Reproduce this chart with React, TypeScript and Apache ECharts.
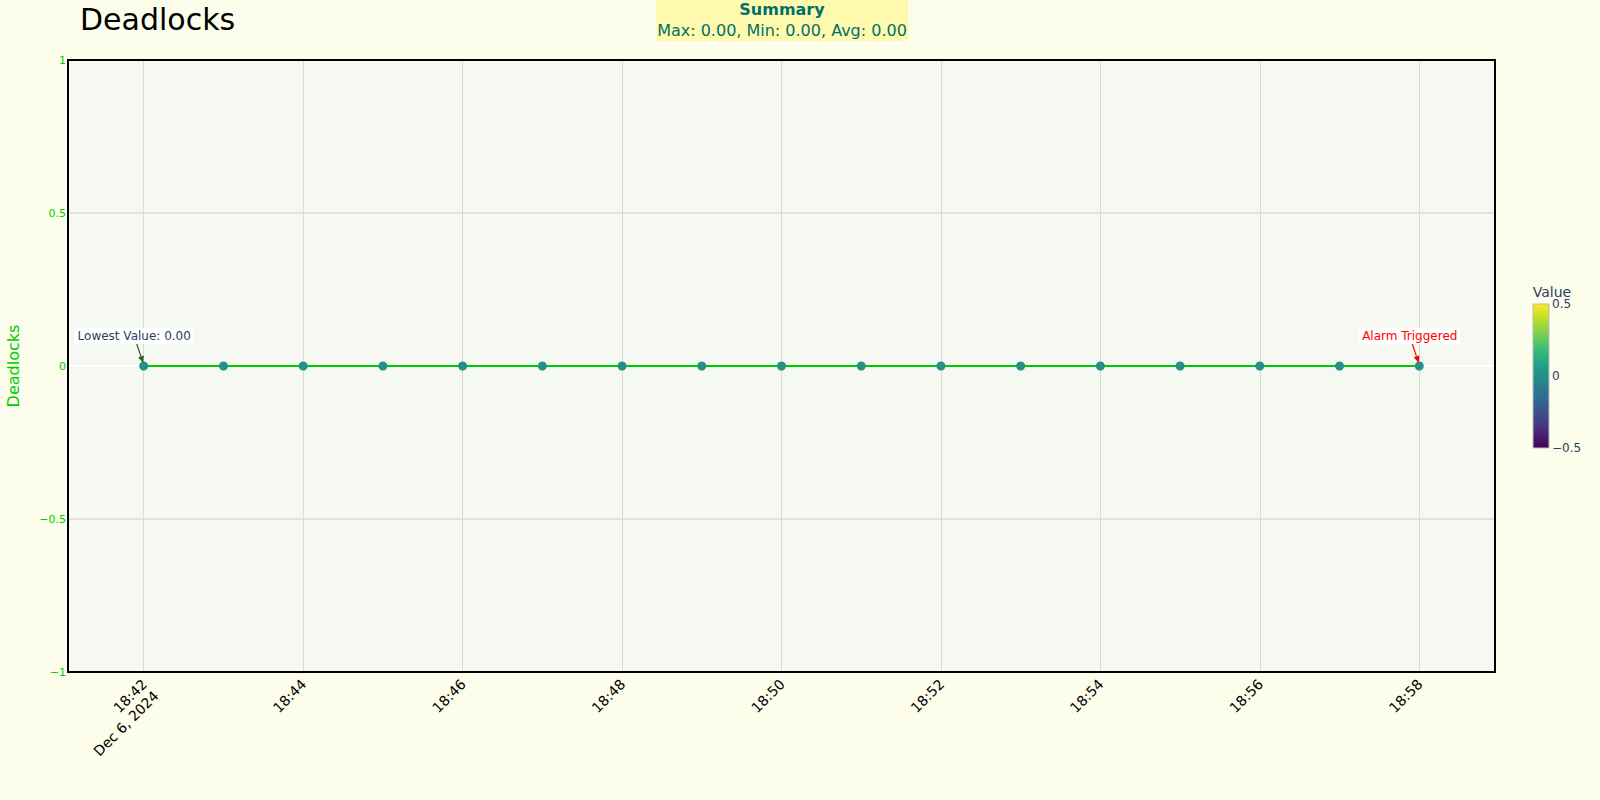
import React, { useEffect, useRef } from "react";
import * as echarts from "echarts";

const DAY = "2024-12-06";
const DAY_LABEL = "Dec 6, 2024";
const times = ["18:42", "18:43", "18:44", "18:45", "18:46", "18:47", "18:48", "18:49", "18:50", "18:51", "18:52", "18:53", "18:54", "18:55", "18:56", "18:57", "18:58"];
const values = [0, 0, 0, 0, 0, 0, 0, 0, 0, 0, 0, 0, 0, 0, 0, 0, 0];
const xTickTimes = ["18:42", "18:44", "18:46", "18:48", "18:50", "18:52", "18:54", "18:56", "18:58"];
const xRange = ["18:41:03", "18:58:57"];
const yMin = -1;
const yMax = 1;
const yStep = 0.5;
const colorbarTicks = [0.5, 0, -0.5];
const colorbarRange = [-0.5, 0.5];
const summaryTitle = "Summary";
const summaryText = "Max: 0.00, Min: 0.00, Avg: 0.00";
const lowestLabel = "Lowest Value: 0.00";
const alarmLabel = "Alarm Triggered";

const viridis = ["#440154", "#482878", "#3e4989", "#31688e", "#26828e", "#1f9e89", "#35b779", "#6ece58", "#b5de2b", "#fde725"];

const FONT = "DejaVu Sans";
const toTs = (t: string) => new Date(`${DAY}T${t.length === 5 ? t + ":00" : t}`).getTime();
const fmtNum = (v: number) => (v < 0 ? "\u2212" + String(-v) : String(v));

export default function App() {
  const ref = useRef<HTMLDivElement>(null);
  useEffect(() => {
    document.body.style.margin = "0";
    const chart = echarts.init(ref.current!, null, { renderer: "svg" });
    const data = times.map((t, i) => [toTs(t), values[i]]);
    const firstTs = toTs(times[0]);
    const tickVals = xTickTimes.map(toTs);
    chart.setOption({
      animation: false,
      backgroundColor: "#fdfdec",
      title: {
        text: "Deadlocks",
        left: 75,
        top: -1,
        textStyle: { fontFamily: FONT, fontSize: 30, fontWeight: "normal", color: "#000" },
      },
      grid: {
        left: 68,
        right: 105,
        top: 60,
        bottom: 128,
        show: true,
        backgroundColor: "#f6f8f2",
        borderWidth: 0,
        containLabel: false,
        outerBoundsMode: "none",
      },
      xAxis: {
        type: "value",
        min: toTs(xRange[0]),
        max: toTs(xRange[1]),
        axisLine: { show: false },
        axisTick: { show: false, customValues: tickVals },
        splitLine: { show: true, lineStyle: { color: "#d9d9d9", width: 1 } },
        axisLabel: {
          customValues: tickVals,
          rotate: 45,
          margin: 9,
          verticalAlign: "top",
          fontFamily: FONT,
          fontSize: 14,
          color: "#000",
          rich: {
            a: { fontFamily: FONT, fontSize: 14, color: "#000", lineHeight: 2 },
            b: { fontFamily: FONT, fontSize: 14, color: "#000", lineHeight: 31 },
          },
          formatter: (v: number) => {
            const d = new Date(v);
            const s = String(d.getHours()).padStart(2, "0") + ":" + String(d.getMinutes()).padStart(2, "0");
            return "{a|" + s + "}" + (v === firstTs ? "\n{b|" + DAY_LABEL + "}" : "");
          },
        },
      },
      yAxis: {
        type: "value",
        min: yMin,
        max: yMax,
        interval: yStep,
        name: "Deadlocks",
        nameLocation: "middle",
        nameGap: 47,
        nameTextStyle: { fontFamily: FONT, fontSize: 16, color: "#00cc00" },
        axisLine: { show: false },
        axisTick: { show: false },
        splitLine: {
          show: true,
          lineStyle: { color: ["#e2e2e2", "#e2e2e2", "#ffffff", "#e2e2e2", "#e2e2e2"], width: 2 },
        },
        axisLabel: {
          margin: 2,
          fontFamily: FONT,
          fontSize: 11,
          color: "#00cc00",
          formatter: (v: number) => fmtNum(v),
        },
      },
      visualMap: {
        show: false,
        type: "continuous",
        min: colorbarRange[0],
        max: colorbarRange[1],
        seriesIndex: 1,
        dimension: 1,
        inRange: { color: viridis },
      },
      series: [
        {
          type: "line",
          data,
          showSymbol: false,
          symbol: "none",
          lineStyle: { color: "#00c800", width: 2 },
          z: 3,
        },
        {
          type: "scatter",
          data,
          symbolSize: 9,
          itemStyle: { opacity: 1 },
          z: 4,
        },
      ],
    });

    const pc = (pt: any) => chart.convertToPixel({ xAxisIndex: 0, yAxisIndex: 0 }, pt) as number[];
    const p0 = pc(data[0]);
    const p1 = pc(data[data.length - 1]);
    const tl = pc([toTs(xRange[0]), yMax]);
    const br = pc([toTs(xRange[1]), yMin]);
    const cbX = 1533;
    const cbW = 16;
    const cbH = 144;
    const cbY0 = 304;
    const cbPix = (v: number) => cbY0 + ((colorbarRange[1] - v) / (colorbarRange[1] - colorbarRange[0])) * cbH;

    const arrow = (px: number, py: number, sx: number, sy: number, color: string) => {
      const ang = Math.atan2(py - sy, px - sx);
      const L = 7, W = 3;
      const bx = px - L * Math.cos(ang), by = py - L * Math.sin(ang);
      const nx = -Math.sin(ang), ny = Math.cos(ang);
      return [
        { type: "line", shape: { x1: sx, y1: sy, x2: bx, y2: by }, style: { stroke: color, lineWidth: 1.2 }, z: 10 },
        {
          type: "polygon",
          shape: { points: [[px, py], [bx + nx * W, by + ny * W], [bx - nx * W, by - ny * W]] },
          style: { fill: color },
          z: 10,
        },
      ];
    };

    const ann = (p: number[], text: string, color: string, arrowColor: string) => [
      {
        type: "text",
        x: p[0] - 9.5,
        y: p[1] - 30,
        style: {
          text,
          fill: color,
          font: `12px "${FONT}"`,
          align: "center",
          verticalAlign: "middle",
          backgroundColor: "rgba(255,255,255,0.9)",
          padding: [2, 3, 2, 3],
        },
        z: 11,
      },
      ...arrow(p[0] - 0.5, p[1] - 3, p[0] - 7, p[1] - 22, arrowColor),
    ];

    chart.setOption({
      graphic: [
        {
          type: "rect",
          shape: { x: tl[0], y: tl[1], width: br[0] - tl[0], height: br[1] - tl[1] },
          style: { fill: "none", stroke: "#000", lineWidth: 2 },
          silent: true,
          z: 8,
        },
        {
          type: "rect",
          shape: { x: 656, y: 0, width: 252, height: 41 },
          style: { fill: "#fff9ae" },
          z: 5,
        },
        {
          type: "text",
          x: 782,
          y: 9.5,
          style: { text: summaryTitle, fill: "#00706a", font: `bold 16px "${FONT}"`, align: "center", verticalAlign: "middle" },
          z: 6,
        },
        {
          type: "text",
          x: 782,
          y: 30.5,
          style: { text: summaryText, fill: "#00706a", font: `16px "${FONT}"`, align: "center", verticalAlign: "middle" },
          z: 6,
        },
        ...ann(p0, lowestLabel, "#2a3f5f", "#2f5f10"),
        ...ann(p1, alarmLabel, "#ff0000", "#ff0000"),
        {
          type: "rect",
          shape: { x: cbX, y: cbY0, width: cbW, height: cbH },
          style: {
            fill: new echarts.graphic.LinearGradient(0, 0, 0, 1,
              viridis.slice().reverse().map((c, i) => ({ offset: i / (viridis.length - 1), color: c }))),
            stroke: "#bbbbbb",
            lineWidth: 1,
          },
          z: 5,
        },
        {
          type: "text",
          x: 1552,
          y: cbY0 - 12,
          style: { text: "Value", fill: "#2a3f5f", font: `14px "${FONT}"`, align: "center", verticalAlign: "middle" },
          z: 6,
        },
        ...colorbarTicks.map((v) => ({
          type: "text",
          x: cbX + cbW + 3,
          y: cbPix(v),
          style: { text: fmtNum(v), fill: "#2a3f5f", font: `12px "${FONT}"`, align: "left", verticalAlign: "middle" },
          z: 6,
        })),
      ],
    });
    return () => chart.dispose();
  }, []);
  return <div ref={ref} style={{ position: "fixed", left: 0, top: 0, width: 1600, height: 800 }} />;
}
